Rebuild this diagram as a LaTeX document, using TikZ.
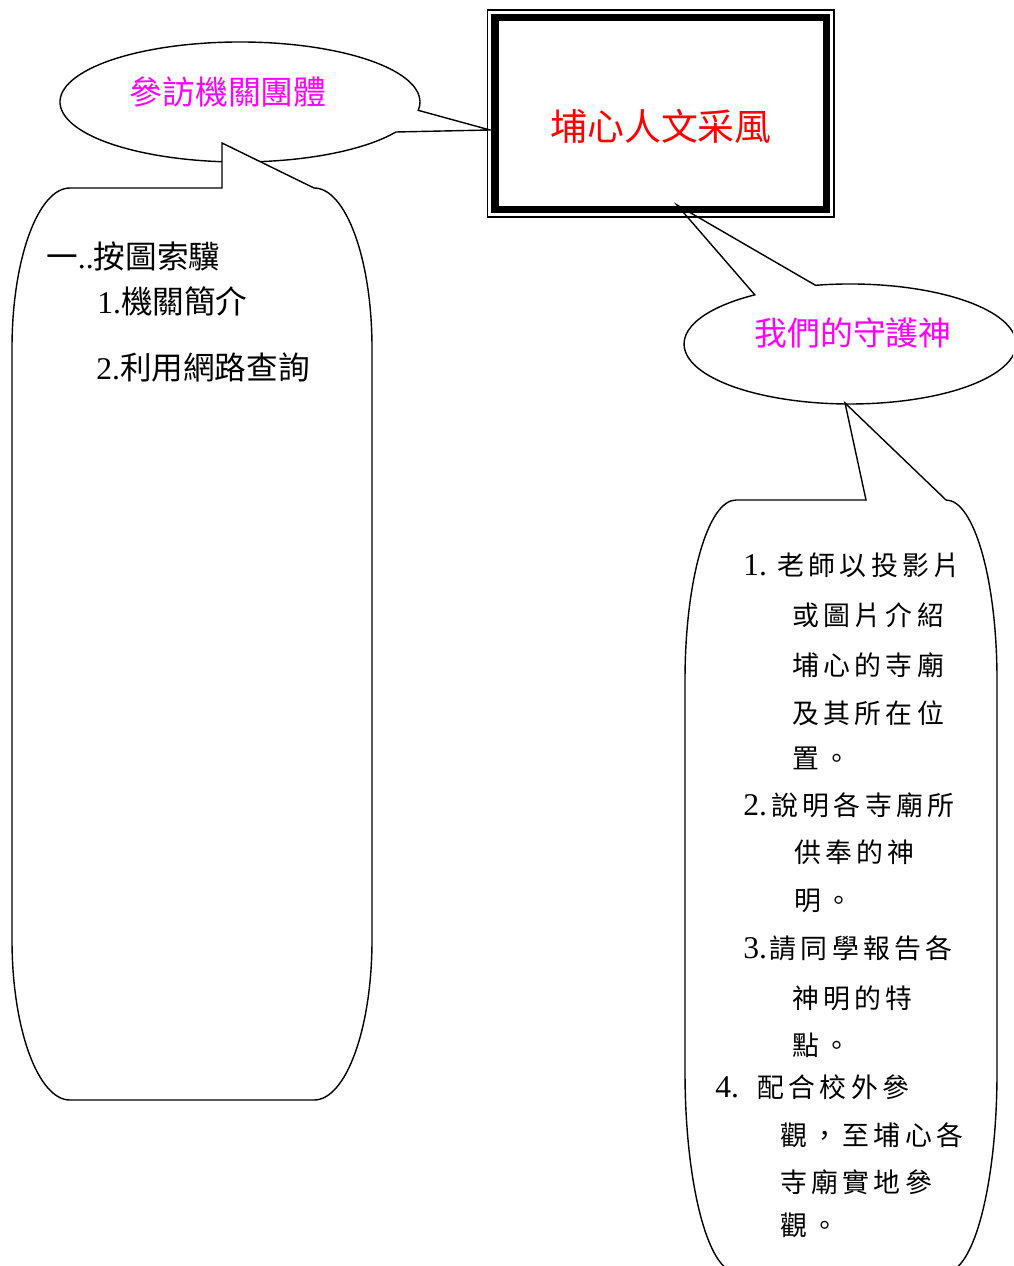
\documentclass[tikz,border=0pt]{standalone}
\usepackage{fontspec}
\setmainfont{Liberation Serif}
\newfontfamily\cjk{Noto Sans CJK TC}
\newfontfamily\cjkwide[LetterSpace=16]{Noto Sans CJK TC}
\newcommand{\zhtxt}[1]{{\cjk #1}}
\newcommand{\zhwide}[1]{{\cjkwide #1}}
\newcommand{\numtxt}[1]{{\fontsize{18}{22}\selectfont #1}}
\definecolor{pinktxt}{RGB}{255,0,255}
\definecolor{redtxt}{RGB}{255,0,0}

\begin{document}
\begin{tikzpicture}[x=0.02cm, y=-0.02cm,
		outline/.style={draw, line width=0.8pt, fill=white},
		title/.style={font=\fontsize{18.7}{22}\selectfont\cjk, text=pinktxt, inner sep=0pt, anchor=base},
		lefttxt/.style={font=\fontsize{18}{22}\selectfont, inner sep=0pt, anchor=base west},
		righttxt/.style={font=\fontsize{15.3}{18}\selectfont, inner sep=0pt, anchor=base west}]
	\useasboundingbox (0,0) rectangle (1013,1266);
	\clip (0,0) rectangle (1013,1266);

	% where the callouts point
	\coordinate (tipA) at (490,130);
	\coordinate (tipB) at (677,205);
	\coordinate (tipC) at (222,143);
	\coordinate (tipD) at (845,403);

	% ellipse callouts
	\draw[outline] (395.9,132) arc[start angle=30, end angle=368, x radius=180, y radius=60] -- (tipA) -- cycle;
	\draw[outline] (815.5,285.3) arc[start angle=258, end angle=595, x radius=166, y radius=60] -- (tipB) -- cycle;

	% the title box
	\draw[line width=0.7pt] (487.5,10) rectangle (834,217);
	\draw[line width=4.5pt] (495,17.5) rectangle (826.5,209.5);

	% tall callouts
	\draw[outline] (314,188) arc[start angle=270, end angle=360, x radius=58, y radius=160]
		-- (372,940) arc[start angle=0, end angle=90, x radius=58, y radius=160]
		-- (70,1100) arc[start angle=90, end angle=180, x radius=58, y radius=160]
		-- (12,348) arc[start angle=180, end angle=270, x radius=58, y radius=160]
		-- (222,188) -- (tipC) -- cycle;
	\draw[outline] (946,500) arc[start angle=270, end angle=360, x radius=51, y radius=180]
		-- (997,1072) arc[start angle=0, end angle=90, x radius=51, y radius=200]
		-- (736,1272) arc[start angle=90, end angle=180, x radius=51, y radius=200]
		-- (685,680) arc[start angle=180, end angle=270, x radius=51, y radius=180]
		-- (866,500) -- (tipD) -- cycle;

	\node[font=\fontsize{21}{25}\selectfont\cjk, text=redtxt, inner sep=0pt, anchor=base] (core) at (661,141) {埔心人文采風};
	\node[title] (visit) at (228,104.5) {參訪機關團體};
	\node[title] (guard) at (853,345.5) {我們的守護神};

	\node[lefttxt] (l1) at (46,269) {\zhtxt{一}..\zhtxt{按圖索驥}};
	\node[lefttxt] (l2) at (97,314) {1.\zhtxt{機關簡介}};
	\node[lefttxt] (l3) at (96,380) {2.\zhtxt{利用網路查詢}};

	\node[righttxt] (r1) at (743,575) {\numtxt{1.}\hspace{6pt}\zhwide{老師以投影片}};
	\node[righttxt] (r2) at (792,625) {\zhwide{或圖片介紹}};
	\node[righttxt] (r3) at (792,675) {\zhwide{埔心的寺廟}};
	\node[righttxt] (r4) at (792,723) {\zhwide{及其所在位}};
	\node[righttxt] (r5) at (792,768) {\zhwide{置。}};
	\node[righttxt] (r6) at (743,815) {\numtxt{2.}\hspace{2.5pt}\zhwide{說明各寺廟所}};
	\node[righttxt] (r7) at (794,862) {\zhwide{供奉的神}};
	\node[righttxt] (r8) at (794,910) {\zhwide{明。}};
	\node[righttxt] (r9) at (743,958) {\numtxt{3.}\hspace{1.5pt}\zhwide{請同學報告各}};
	\node[righttxt] (r10) at (792,1008) {\zhwide{神明的特}};
	\node[righttxt] (r11) at (792,1055) {\zhwide{點。}};
	\node[righttxt] (r12) at (715,1097) {\numtxt{4.}\hspace{10.5pt}\zhwide{配合校外參}};
	\node[righttxt] (r13) at (780,1145) {\zhwide{觀，至埔心各}};
	\node[righttxt] (r14) at (780,1192) {\zhwide{寺廟實地參}};
	\node[righttxt] (r15) at (780,1235) {\zhwide{觀。}};
\end{tikzpicture}
\end{document}
